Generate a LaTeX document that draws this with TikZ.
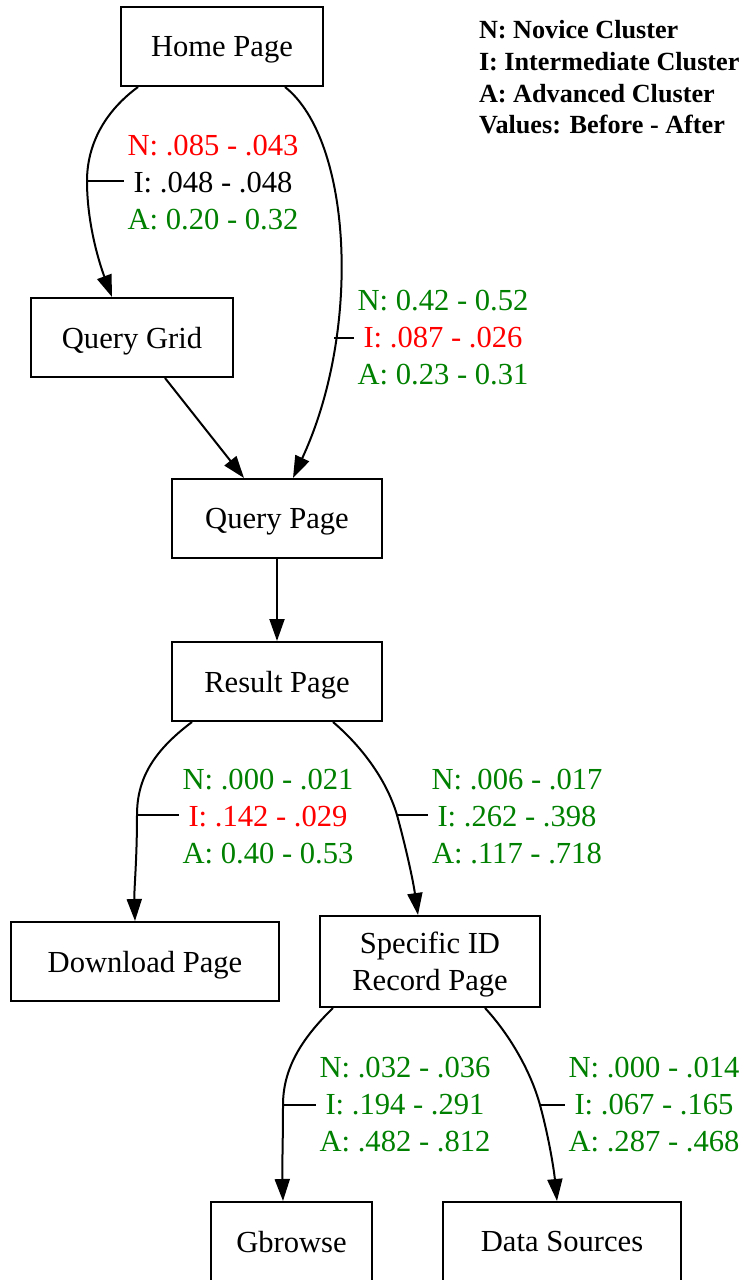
\documentclass[tikz,border=0pt]{standalone}
\usepackage{fontspec}
\setmainfont{Liberation Serif}
\usepackage{tikz}
\usetikzlibrary{arrows.meta,calc}
\definecolor{softred}{RGB}{255,0,0}
\definecolor{softgreen}{RGB}{0,128,0}

\begin{document}
\begin{tikzpicture}[x=0.5pt,y=-0.5pt,>={Triangle[length=11pt,width=7.5pt]},line width=1pt,
  every node/.style={font=\fontsize{15.3}{18.5}\selectfont},
  page/.style={draw,inner sep=0pt,align=center,text depth=0pt,minimum height=39.5pt},
  rate/.style={align=center,inner sep=1.5pt}]
\useasboundingbox (0,0) rectangle (745,1280);
% pages
\node[page,minimum width=101pt] (home) at (222,46.5) {Home Page};
\node[page,minimum width=101pt] (qgrid) at (132,337.5) {Query Grid};
\node[page,minimum width=105pt] (qpage) at (277,518.5) {Query Page};
\node[page,minimum width=105pt] (result) at (277,681.5) {Result Page};
\node[page,minimum width=134pt] (download) at (145,961.5) {Download Page};
\node[page,minimum width=110pt,minimum height=45.5pt] (specid) at (430,961.5) {Specific ID\\Record Page};
\node[page,minimum width=80.5pt] (gbrowse) at (291.5,1241.5) {Gbrowse};
\node[page,minimum width=119pt] (datasrc) at (562,1241.5) {Data Sources};
% legend
\node[anchor=west,align=left,inner sep=0pt,font=\fontsize{13.1}{15.85}\selectfont\bfseries] (key) at (478,77.5)
  {N: Novice Cluster\\I: Intermediate Cluster\\A: Advanced Cluster\\Values: Before - After};
% rates
\node[rate] (r1) at (213,183) {\textcolor{softred}{N: .085 - .043}\\I: .048 - .048\\\textcolor{softgreen}{A: 0.20 - 0.32}};
\node[rate] (r2) at (443,338) {\textcolor{softgreen}{N: 0.42 - 0.52}\\\textcolor{softred}{I: .087 - .026}\\\textcolor{softgreen}{A: 0.23 - 0.31}};
\node[rate] (r3) at (268,817) {\textcolor{softgreen}{N: .000 - .021}\\\textcolor{softred}{I: .142 - .029}\\\textcolor{softgreen}{A: 0.40 - 0.53}};
\node[rate,text=softgreen] (r4) at (517,817) {N: .006 - .017\\I: .262 - .398\\A: .117 - .718};
\node[rate,text=softgreen] (r5) at (405,1105) {N: .032 - .036\\I: .194 - .291\\A: .482 - .812};
\node[rate,text=softgreen] (r6) at (654,1105) {N: .000 - .014\\I: .067 - .165\\A: .287 - .468};
% edge midpoints
\coordinate (m1) at (87,181);
\coordinate (m3) at (137,815);
\coordinate (m4) at (397,815);
\coordinate (m5) at (283,1105);
\coordinate (m6) at (540,1105);
% links
\draw[->] ($(home.south)+(-84,0)$) .. controls (100,115) and (87,150) .. (m1)
  .. controls (87,225) and (100,265) .. ($(qgrid.north)+(-20,0)$);
\draw[->] ($(home.south)+(63,0)$) .. controls (352,140) and (362,330) .. ($(qpage.north)+(16,0)$)
  coordinate[pos=.7] (m2);
\draw[->] ($(qgrid.south)+(33,0)$) -- ($(qpage.north)+(-33,0)$);
\draw[->] (qpage) -- (result);
\draw[->] ($(result.south)+(-85,0)$) .. controls (152,752) and (137,780) .. (m3)
  .. controls (137,860) and (134,890) .. ($(download.north)+(-10,0)$);
\draw[->] ($(result.south)+(56,0)$) .. controls (360,745) and (386,778) .. (m4)
  .. controls (406,848) and (413,880) .. ($(specid.north)+(-12,0)$);
\draw[->] ($(specid.south)+(-97,0)$) .. controls (300,1040) and (283,1070) .. (m5)
  .. controls (283,1140) and (282,1170) .. ($(gbrowse.north)+(-8.5,0)$);
\draw[->] ($(specid.south)+(55,0)$) .. controls (510,1035) and (531,1072) .. (m6)
  .. controls (549,1138) and (554,1170) .. ($(datasrc.north)+(-5,0)$);
% leaders
\draw (m1) -- (m1 -| r1.west);
\draw (m2) -- (m2 -| r2.west);
\draw (m3) -- (m3 -| r3.west);
\draw (m4) -- (m4 -| r4.west);
\draw (m5) -- (m5 -| r5.west);
\draw (m6) -- (m6 -| r6.west);
\end{tikzpicture}
\end{document}
